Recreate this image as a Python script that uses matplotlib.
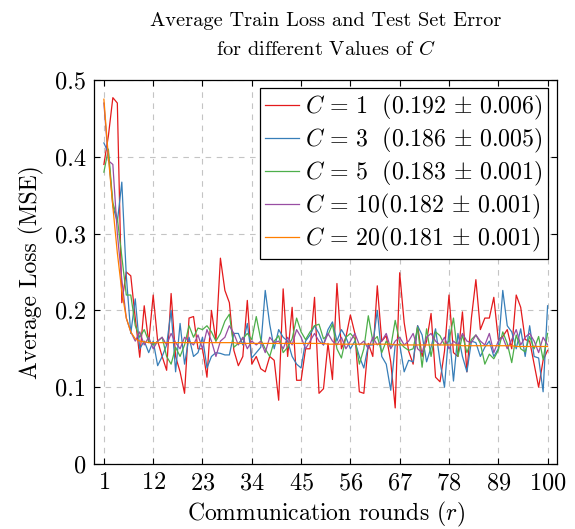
import matplotlib
matplotlib.use("Agg")
import matplotlib.pyplot as plt

plt.rcParams["font.family"] = "serif"
plt.rcParams["font.serif"] = ["cmr10", "DejaVu Serif"]
plt.rcParams["mathtext.fontset"] = "cm"
plt.rcParams["axes.formatter.use_mathtext"] = True

rounds = list(range(1, 101))

loss_c1 = [
    0.39, 0.427, 0.477, 0.47, 0.21, 0.25, 0.245, 0.19, 0.139, 0.206,
    0.158, 0.22, 0.16, 0.14, 0.122, 0.222, 0.14, 0.12, 0.092, 0.19,
    0.192, 0.15, 0.15, 0.113, 0.2, 0.16, 0.268, 0.226, 0.21, 0.148,
    0.128, 0.14, 0.213, 0.13, 0.14, 0.124, 0.12, 0.14, 0.135, 0.083,
    0.228, 0.14, 0.204, 0.109, 0.109, 0.15, 0.15, 0.217, 0.092, 0.098,
    0.157, 0.11, 0.235, 0.15, 0.165, 0.194, 0.17, 0.094, 0.092, 0.157,
    0.14, 0.232, 0.16, 0.167, 0.133, 0.073, 0.249, 0.184, 0.147, 0.13,
    0.18, 0.14, 0.16, 0.196, 0.113, 0.107, 0.147, 0.22, 0.145, 0.14,
    0.198, 0.12, 0.19, 0.24, 0.175, 0.19, 0.19, 0.217, 0.162, 0.166,
    0.175, 0.15, 0.22, 0.204, 0.162, 0.16, 0.13, 0.1, 0.135, 0.148,
]
loss_c3 = [
    0.418, 0.405, 0.336, 0.315, 0.367, 0.245, 0.17, 0.215, 0.15, 0.16,
    0.145, 0.16, 0.128, 0.14, 0.155, 0.2, 0.12, 0.183, 0.13, 0.165,
    0.14, 0.145, 0.165, 0.125, 0.14, 0.145, 0.144, 0.142, 0.142, 0.17,
    0.17, 0.155, 0.183, 0.138, 0.145, 0.152, 0.226, 0.182, 0.15, 0.175,
    0.165, 0.16, 0.14, 0.13, 0.125, 0.16, 0.168, 0.18, 0.17, 0.155,
    0.175, 0.185, 0.16, 0.175, 0.165, 0.15, 0.16, 0.14, 0.125, 0.155,
    0.155, 0.2, 0.14, 0.13, 0.096, 0.155, 0.156, 0.12, 0.135, 0.133,
    0.18, 0.168, 0.133, 0.152, 0.176, 0.133, 0.1, 0.175, 0.108, 0.17,
    0.14, 0.12, 0.16, 0.158, 0.14, 0.152, 0.16, 0.14, 0.15, 0.226,
    0.18, 0.172, 0.15, 0.176, 0.14, 0.18, 0.14, 0.138, 0.094, 0.206,
]
loss_c5 = [
    0.38, 0.41, 0.34, 0.32, 0.27, 0.22, 0.22, 0.18, 0.165, 0.175,
    0.16, 0.155, 0.16, 0.165, 0.14, 0.13, 0.152, 0.14, 0.155, 0.18,
    0.165, 0.177, 0.175, 0.18, 0.172, 0.16, 0.17, 0.186, 0.195, 0.152,
    0.157, 0.163, 0.17, 0.162, 0.192, 0.162, 0.15, 0.14, 0.16, 0.167,
    0.145, 0.152, 0.163, 0.19, 0.172, 0.162, 0.172, 0.18, 0.182, 0.163,
    0.168, 0.182, 0.15, 0.138, 0.165, 0.17, 0.163, 0.13, 0.15, 0.193,
    0.16, 0.166, 0.145, 0.16, 0.152, 0.187, 0.158, 0.152, 0.148, 0.15,
    0.178, 0.126, 0.176, 0.14, 0.172, 0.167, 0.155, 0.16, 0.19, 0.14,
    0.168, 0.145, 0.162, 0.168, 0.157, 0.13, 0.143, 0.137, 0.148, 0.172,
    0.157, 0.132, 0.168, 0.15, 0.146, 0.166, 0.15, 0.166, 0.136, 0.17,
]
loss_c10 = [
    0.47, 0.395, 0.39, 0.30, 0.24, 0.19, 0.172, 0.16, 0.172, 0.155,
    0.165, 0.15, 0.16, 0.165, 0.155, 0.17, 0.158, 0.15, 0.165, 0.16,
    0.155, 0.168, 0.15, 0.175, 0.16, 0.14, 0.16, 0.165, 0.18, 0.17,
    0.155, 0.165, 0.15, 0.16, 0.155, 0.16, 0.145, 0.165, 0.158, 0.16,
    0.15, 0.165, 0.155, 0.175, 0.165, 0.15, 0.16, 0.17, 0.16, 0.155,
    0.17, 0.16, 0.155, 0.165, 0.15, 0.16, 0.17, 0.155, 0.16, 0.15,
    0.165, 0.155, 0.16, 0.17, 0.15, 0.16, 0.165, 0.155, 0.16, 0.17,
    0.15, 0.145, 0.165, 0.17, 0.16, 0.155, 0.165, 0.15, 0.16, 0.155,
    0.17, 0.16, 0.158, 0.168, 0.16, 0.155, 0.17, 0.145, 0.16, 0.165,
    0.15, 0.162, 0.175, 0.155, 0.165, 0.17, 0.16, 0.145, 0.165, 0.155,
]
loss_c20 = [
    0.475, 0.40, 0.335, 0.275, 0.225, 0.19, 0.172, 0.163, 0.16, 0.159,
    0.158, 0.158, 0.158, 0.158, 0.158, 0.158, 0.158, 0.158, 0.158, 0.158,
    0.158, 0.158, 0.158, 0.158, 0.158, 0.158, 0.158, 0.158, 0.158, 0.158,
    0.157, 0.157, 0.157, 0.157, 0.157, 0.157, 0.157, 0.157, 0.157, 0.157,
    0.157, 0.157, 0.157, 0.157, 0.157, 0.157, 0.157, 0.157, 0.157, 0.157,
    0.156, 0.156, 0.156, 0.156, 0.156, 0.156, 0.156, 0.156, 0.156, 0.156,
    0.156, 0.156, 0.156, 0.156, 0.156, 0.155, 0.155, 0.155, 0.155, 0.155,
    0.155, 0.155, 0.155, 0.155, 0.155, 0.155, 0.155, 0.155, 0.155, 0.155,
    0.154, 0.154, 0.154, 0.154, 0.154, 0.154, 0.154, 0.154, 0.154, 0.154,
    0.154, 0.154, 0.153, 0.153, 0.153, 0.153, 0.153, 0.153, 0.153, 0.153,
]

labels = [
    r"$C\,=\,1\ \ (0.192\,\pm\,0.006)$",
    r"$C\,=\,3\ \ (0.186\,\pm\,0.005)$",
    r"$C\,=\,5\ \ (0.183\,\pm\,0.001)$",
    r"$C\,=\,10(0.182\,\pm\,0.001)$",
    r"$C\,=\,20(0.181\,\pm\,0.001)$",
]
colors = ["#e41a1c", "#377eb8", "#4daf4a", "#984ea3", "#ff7f00"]
series = [loss_c1, loss_c3, loss_c5, loss_c10, loss_c20]

xticks = [1, 12, 23, 34, 45, 56, 67, 78, 89, 100]
yticks = [0, 0.1, 0.2, 0.3, 0.4, 0.5]
ytick_labels = ["0", "0.1", "0.2", "0.3", "0.4", "0.5"]

fig = plt.figure(figsize=(5.75, 5.29), dpi=100)
ax = fig.add_axes([0.1643, 0.1229, 0.8044, 0.7259])

for vals, col, lab in zip(series, colors, labels):
    ax.plot(rounds, vals, color=col, lw=0.9, label=lab)

ax.set_xlim(-1.1, 102.1)
ax.set_ylim(0, 0.5)
ax.set_xticks(xticks)
ax.set_yticks(yticks)
ax.set_yticklabels(ytick_labels)
ax.tick_params(direction="in", length=4, labelsize=17.5, top=True, right=True, pad=6)
ax.grid(True, linestyle=(0, (5, 5)), color="#c4c4c4", lw=0.8)
for s in ax.spines.values():
    s.set_linewidth(0.9)

ax.set_title("Average Train Loss and Test Set Error\nfor different Values of $C$",
             fontsize=14.7, pad=18, linespacing=1.65)
ax.set_xlabel("Communication rounds $(r)$", fontsize=17, labelpad=4)
ax.set_ylabel("Average Loss (MSE)", fontsize=17, labelpad=8)

leg = ax.legend(loc="upper right", bbox_to_anchor=(0.98, 0.98), fontsize=17.2,
                handlelength=1.45, handletextpad=0.25, borderpad=0.2,
                borderaxespad=0, labelspacing=0.17, fancybox=False,
                framealpha=1, edgecolor="black")
leg.get_frame().set_linewidth(0.9)

fig.savefig("out.png", dpi=100)
